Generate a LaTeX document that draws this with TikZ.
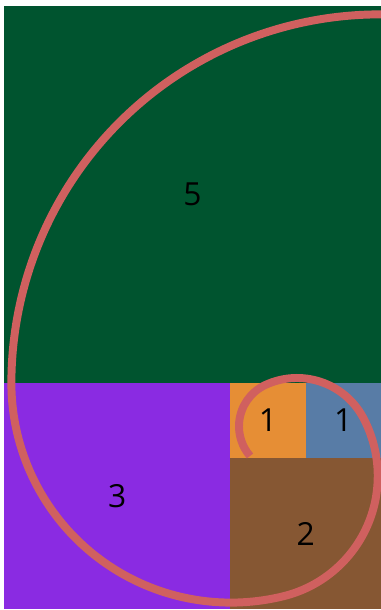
\documentclass[tikz,border=0pt]{standalone}
\usepackage{fontspec}
\setmainfont{Open Sans}
\usepackage{tikz}
\usetikzlibrary{calc}
\definecolor{sqgreen}{HTML}{00542F}
\definecolor{sqpurple}{HTML}{8A2BE2}
\definecolor{sqbrown}{HTML}{865733}
\definecolor{sqorange}{HTML}{E68E35}
\definecolor{sqblue}{HTML}{587CA6}
\definecolor{spiralred}{HTML}{D0605F}

\begin{document}
\begin{tikzpicture}[x=1cm,y=1cm,font=\fontsize{12}{14}\selectfont,
  spiral/.style={spiralred,line width=3pt}]
\useasboundingbox (-0.053,-0.013) rectangle (5,8.077);
\clip (-0.053,-0.013) rectangle (5,8.077);
% the five squares, side = Fibonacci number
\foreach \x/\y/\s/\c/\n in {0/3/5/sqgreen/e, 0/0/3/sqpurple/d, 3/0/2/sqbrown/c, 3/2/1/sqorange/a, 4/2/1/sqblue/b}{
  \fill[\c] (\x,\y) rectangle ++(\s,\s);
  \node (sq\n) at (\x+\s/2,\y+\s/2) {\s};
}
% spiral: tangent arcs, outer end first
\coordinate (spstart) at ($(4.987,2.997)+(80:4.889)$);
\draw[spiral] (spstart)
  arc[start angle=80,end angle=180,radius=4.889]
  arc[start angle=180,end angle=283.9,radius=2.912]
  arc[start angle=283.9,end angle=388.1,radius=1.642]
  arc[start angle=28.1,end angle=115,radius=0.995]
  arc[start angle=115,end angle=220.7,radius=0.604];
\end{tikzpicture}
\end{document}
